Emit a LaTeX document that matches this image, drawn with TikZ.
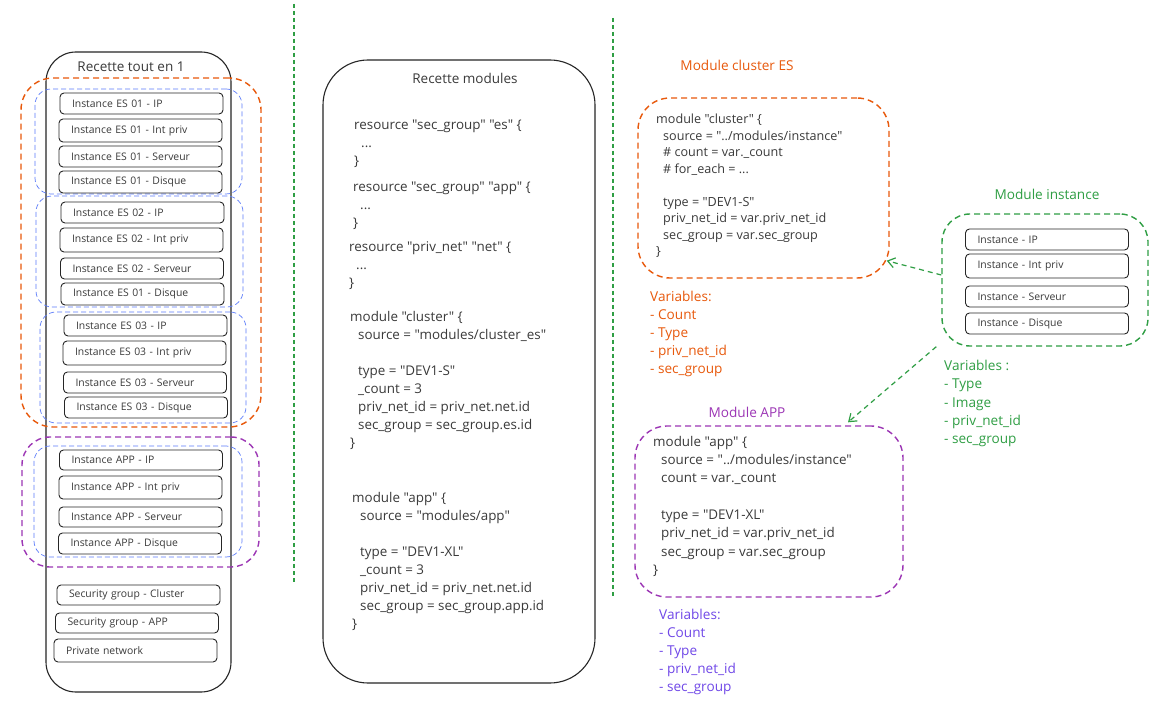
\documentclass[tikz,border=0pt]{standalone}
\usepackage{fontspec}
\setmainfont{Open Sans}[Ligatures=TeXOff]
\usetikzlibrary{arrows.meta}

\definecolor{txt}{HTML}{3A3A3A}
\definecolor{esorange}{HTML}{E8590C}
\definecolor{sepgreen}{HTML}{2F9E44}
\definecolor{apppurple}{HTML}{9C36B5}
\definecolor{varviolet}{HTML}{7048E8}
\definecolor{grpblue}{HTML}{5C7CFA}

\newcommand{\codeind}{\hspace*{8pt}}

\begin{document}
\begin{tikzpicture}[x=1pt, y=-1pt, >=Latex]

\tikzset{
  inst/.style={
    draw=black!85, line width=0.9pt, rounded corners=4pt,
    minimum width=163pt, text width=139pt, inner xsep=12pt, inner ysep=0pt,
    align=left, font=\fontsize{10.4}{12}\selectfont, text=txt
  },
  recette/.style={draw=black!85, line width=1.1pt, inner sep=0pt},
  esframe/.style={draw=esorange, line width=1.4pt, dash pattern=on 6pt off 4pt, inner sep=0pt},
  appframe/.style={draw=apppurple, line width=1.4pt, dash pattern=on 6pt off 4pt, inner sep=0pt},
  miframe/.style={draw=sepgreen, line width=1.4pt, dash pattern=on 6pt off 4pt, inner sep=0pt},
  grpframe/.style={draw=grpblue, line width=0.7pt, dash pattern=on 5pt off 3pt, inner sep=0pt, rounded corners=16pt},
  code/.style={anchor=north west, inner sep=0pt, align=left, text=txt},
  title/.style={font=\fontsize{13.5}{16}\selectfont, text=txt},
  modlabel/.style={font=\fontsize{13.6}{16}\selectfont},
  sep/.style={draw=sepgreen, line width=1.2pt, dash pattern=on 4pt off 3pt},
  link/.style={draw=sepgreen, line width=1.2pt, dash pattern=on 5pt off 4pt,
    -{Straight Barb[length=7pt, width=10pt]}}
}

\useasboundingbox[fill=white] (0,0) rectangle (1159,708);

% ==========================
% Separators
% ==========================
\draw[sep] (294,4) -- (294,583);
\draw[sep] (613,18) -- (613,598);

% ==========================
% Left column: everything in one recipe
% ==========================
\node[recette, rounded corners=30pt, minimum width=185pt, minimum height=640pt] (allinone) at (138.5,372) {};
\node[title] (titleall) at (131,67) {Recette tout en 1};

\node[esframe, rounded corners=32pt, minimum width=240pt, minimum height=349pt] (esgroup) at (141,252.5) {};
\node[grpframe, minimum width=207pt, minimum height=105pt] (esA) at (138.5,141.5) {};
\node[grpframe, minimum width=207pt, minimum height=111pt] (esB) at (139.5,251.5) {};
\node[grpframe, minimum width=206pt, minimum height=111pt] (esC) at (143,367.5) {};

\node[appframe, rounded corners=28pt, minimum width=237pt, minimum height=130pt] (appgroup) at (140.5,502) {};
\node[grpframe, minimum width=208pt, minimum height=111pt] (appA) at (138,501.5) {};

\foreach \cx/\cy/\bh/\lbl/\nm in {
  141.5/103.5/21/Instance ES 01 - IP/esAip,
  140.5/130.5/23/Instance ES 01 - Int priv/esApriv,
  140.5/156.5/21/Instance ES 01 - Serveur/esAsrv,
  140.5/182/22/Instance ES 01 - Disque/esAdsk,
  142.5/212.5/21/Instance ES 02 - IP/esBip,
  141.5/240/24/Instance ES 02 - Int priv/esBpriv,
  142/268.5/21/Instance ES 02 - Serveur/esBsrv,
  142.5/294/22/Instance ES 01 - Disque/esBdsk,
  145.5/325.5/21/Instance ES 03 - IP/esCip,
  144.5/353/24/Instance ES 03 - Int priv/esCpriv,
  145/382.5/21/Instance ES 03 - Serveur/esCsrv,
  146/407.5/21/Instance ES 03 - Disque/esCdsk,
  141/460/20/Instance APP - IP/appip,
  140.5/487.5/23/Instance APP - Int priv/apppriv,
  140.5/517/20/Instance APP - Serveur/appsrv,
  140/543.5/21/Instance APP - Disque/appdsk,
  138.5/595/20/Security group - Cluster/sgcluster,
  137/623/20/Security group - APP/sgapp,
  135.5/650.5/23/Private network/privnet}
  \node[inst, minimum height=\bh pt] (\nm) at (\cx,\cy) {\lbl};

% ==========================
% Middle column: recipe with modules
% ==========================
\node[recette, rounded corners=45pt, minimum width=272pt, minimum height=623pt] (withmods) at (459,371.5) {};
\node[title] (titlemods) at (465,78) {Recette modules};

\tikzset{code/.append style={font=\fontsize{13.4}{18}\selectfont}}
\node[code] (resA) at (354,120) {resource "sec\_group" "es" \{\\ \hspace*{7pt}...\\ \}};
\node[code] (resB) at (353,182) {resource "sec\_group" "app" \{\\ \hspace*{7pt}...\\ \}};
\node[code] (resC) at (349,241) {resource "priv\_net" "net" \{\\ \hspace*{7pt}...\\ \}};
\node[code] (callcluster) at (350,311) {module "cluster" \{\\
  \codeind source = "modules/cluster\_es"\\[18pt]
  \codeind type = "DEV1-S"\\
  \codeind \_count = 3\\
  \codeind priv\_net\_id = priv\_net.net.id\\
  \codeind sec\_group = sec\_group.es.id\\
  \}};
\node[code] (callapp) at (352,492) {module "app" \{\\
  \codeind source = "modules/app"\\[18pt]
  \codeind type = "DEV1-XL"\\
  \codeind \_count = 3\\
  \codeind priv\_net\_id = priv\_net.net.id\\
  \codeind sec\_group = sec\_group.app.id\\
  \}};

% ==========================
% Right column: modules
% ==========================
\node[modlabel, text=esorange] (lblcluster) at (737,65) {Module cluster ES};
\node[esframe, rounded corners=32pt, minimum width=251pt, minimum height=180pt] (clusterbox) at (763.5,188) {};
\node[code, font=\fontsize{12.6}{16.5}\selectfont] (clustercode) at (656,114) {module "cluster" \{\\
  \hspace*{7pt}source = "../modules/instance"\\
  \hspace*{7pt}\# count = var.\_count\\
  \hspace*{7pt}\# for\_each = ...\\[16.5pt]
  \hspace*{7pt}type = "DEV1-S"\\
  \hspace*{7pt}priv\_net\_id = var.priv\_net\_id\\
  \hspace*{7pt}sec\_group = var.sec\_group\\
  \}};
\node[code, text=esorange, font=\fontsize{13.6}{18}\selectfont] (clustervars) at (650,291)
  {Variables:\\ - Count\\ - Type\\ - priv\_net\_id\\ - sec\_group};

\node[modlabel, text=sepgreen] (lblinst) at (1047,194) {Module instance};
\node[miframe, rounded corners=28pt, minimum width=206pt, minimum height=132pt] (instbox) at (1045,280) {};
\foreach \cy/\bh/\lbl/\nm in {
  239.5/21/Instance - IP/miip,
  266/24/Instance - Int priv/mipriv,
  296.5/21/Instance - Serveur/misrv,
  323.5/21/Instance - Disque/midsk}
  \node[inst, minimum height=\bh pt] (\nm) at (1047,\cy) {\lbl};
\node[code, text=sepgreen, font=\fontsize{13.6}{18.3}\selectfont] (instvars) at (944,360)
  {Variables :\\ - Type\\ - Image\\ - priv\_net\_id\\ - sec\_group};

\node[modlabel, text=apppurple] (lblapp) at (747,412) {Module APP};
\node[appframe, rounded corners=32pt, minimum width=268pt, minimum height=171pt] (appbox) at (769,511.5) {};
\node[code, font=\fontsize{13.4}{18.3}\selectfont] (appcode) at (653,436) {module "app" \{\\
  \codeind source = "../modules/instance"\\
  \codeind count = var.\_count\\[18.3pt]
  \codeind type = "DEV1-XL"\\
  \codeind priv\_net\_id = var.priv\_net\_id\\
  \codeind sec\_group = var.sec\_group\\
  \}};
\node[code, text=varviolet, font=\fontsize{13.6}{18}\selectfont] (appvars) at (659,609)
  {Variables:\\ - Count\\ - Type\\ - priv\_net\_id\\ - sec\_group};

% instance module used by both modules
\draw[link] ([yshift=5pt]instbox.west) -- ([shift={(-3pt,18pt)}]clusterbox.south east);
\draw[link] ([xshift=-5pt]instbox.south west) -- ([shift={(79pt,3pt)}]appbox.north);

\end{tikzpicture}
\end{document}
